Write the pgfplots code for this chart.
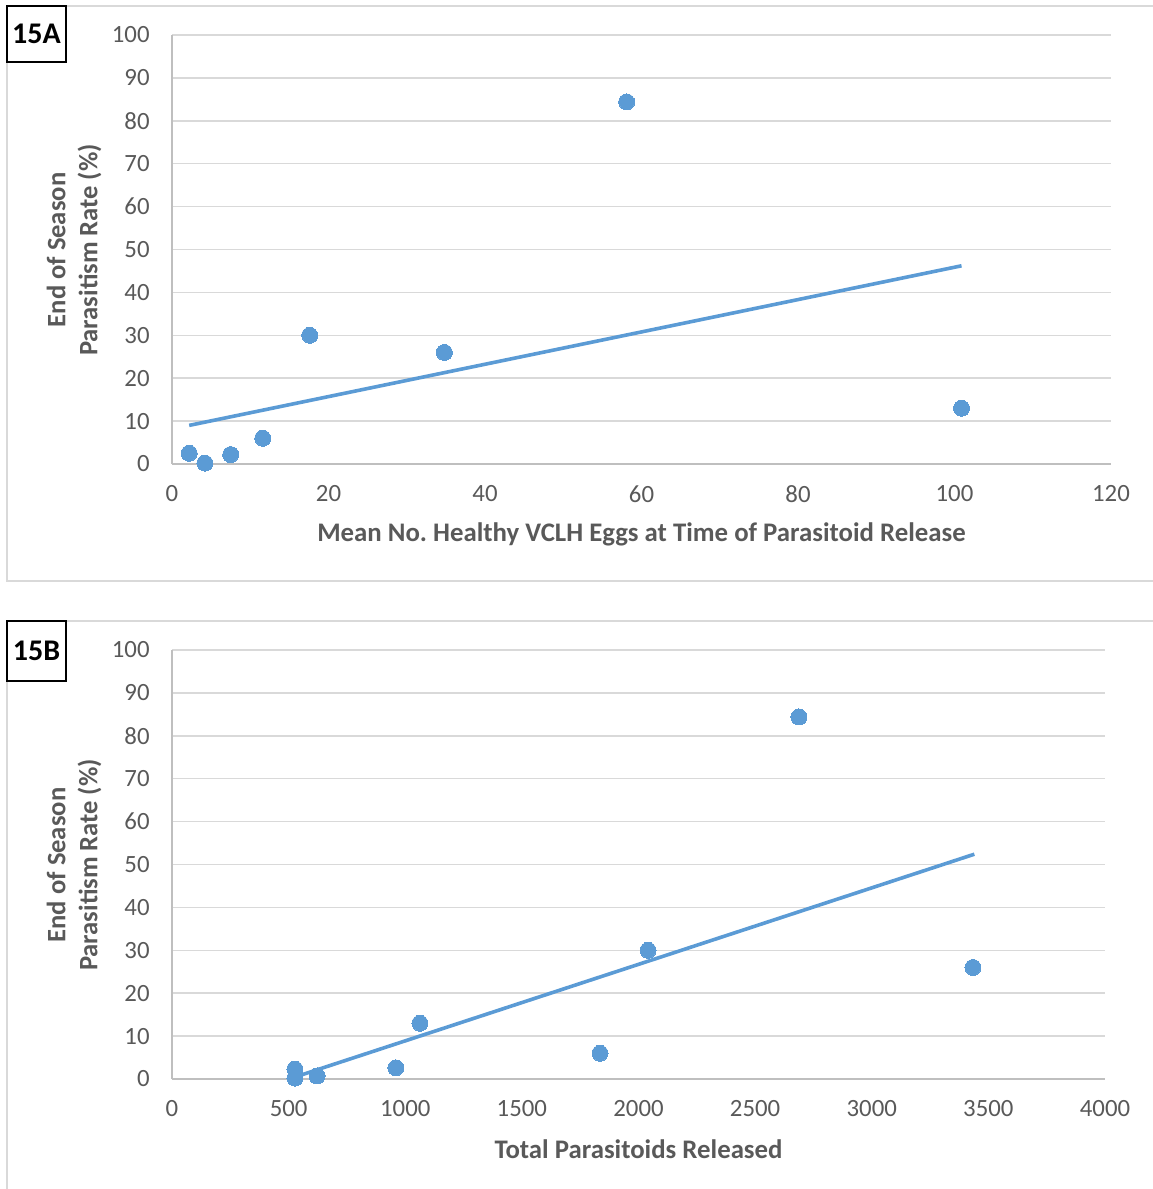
\documentclass[border=0pt]{standalone}
\usepackage{pgfplots}
\pgfplotsset{compat=1.18}
\usepackage{fontspec}
\setmainfont{Carlito}
\definecolor{mk}{HTML}{5B9BD5}
\definecolor{txt}{HTML}{595959}
\definecolor{grd}{HTML}{D9D9D9}
\definecolor{axl}{HTML}{BFBFBF}
\definecolor{frm}{HTML}{D9D9D9}
\pgfplotsset{
  panel/.style={
    scale only axis,
    height=214.5pt,
    ymin=0, ymax=100,
    ytick={0,10,...,100},
    axis x line*=bottom,
    axis y line*=left,
    x axis line style={draw=axl, line width=0.75pt, -},
    y axis line style={draw=axl, line width=0.75pt, -},
    ymajorgrids,
    major grid style={draw=grd, line width=0.75pt},
    major tick length=0pt,
    tick style={draw=none},
    /pgf/number format/assume math mode=true,
    /pgf/number format/1000 sep={},
    ticklabel style={font=\fontsize{12.4pt}{14pt}\selectfont, text=txt},
    xticklabel style={anchor=center, yshift=-15pt, inner sep=0pt},
    yticklabel style={anchor=east, xshift=-11pt, inner sep=0pt},
    xlabel style={at={(rel axis cs:0.5,0)}, anchor=center, yshift=-35pt,
      font=\fontsize{13.4pt}{15pt}\selectfont\bfseries, text=txt},
    clip=false,
  },
  pts/.style={only marks, mark=*, mark size=4pt, mark options={fill=mk, draw=mk, line width=0pt}},
  trend/.style={no marks, draw=mk, line width=1.8pt},
}
\begin{document}
\begin{tikzpicture}
\useasboundingbox (0,0) rectangle (576pt,594.5pt);
% frames
\draw[frm, line width=0.75pt] (580pt,591.5pt) -- (3.5pt,591.5pt) -- (3.5pt,304pt) -- (580pt,304pt);
\draw[frm, line width=0.75pt] (580pt,284pt) -- (3.5pt,284pt) -- (3.5pt,-5pt);
% panel A
\begin{axis}[panel, at={(86pt,362.5pt)}, anchor=south west, width=469.5pt,
  xmin=0, xmax=120, xtick={0,20,...,120},
  xlabel={Mean No.\ Healthy VCLH Eggs at Time of Parasitoid Release}]
\addplot[trend] coordinates {(2.2,9.0) (100.9,46.2)};
\addplot[pts] coordinates {
(2.2,2.5) (4.2,0.2) (7.5,2.2) (11.6,6.0) (17.6,30.0) (34.8,26.0) (58.1,84.4) (100.9,13.0)};
\end{axis}
% panel B
\begin{axis}[panel, at={(86pt,55pt)}, anchor=south west, width=466.5pt,
  xmin=0, xmax=4000, xtick={0,500,...,4000},
  xlabel={Total Parasitoids Released}]
\addplot[trend] coordinates {(535,0.6) (3440,52.4)};
\addplot[pts] coordinates {
(527,2.3) (527,0.2) (622,0.7) (960,2.6) (1063,13.0) (1835,6.0) (2041,30.0) (2688,84.4) (3434,26.0)};
\end{axis}
% y labels
\node[rotate=90, align=center, text=txt, font=\fontsize{13.3pt}{16pt}\selectfont\bfseries] at (37pt,469.5pt) {End of Season\\Parasitism Rate (\%)};
\node[rotate=90, align=center, text=txt, font=\fontsize{13.3pt}{16pt}\selectfont\bfseries] at (37pt,162pt) {End of Season\\Parasitism Rate (\%)};
% panel tags
\draw[black, line width=0.75pt, fill=white] (3.5pt,591.5pt) rectangle (33pt,563.5pt);
\node[font=\fontsize{15pt}{17pt}\selectfont\bfseries] at (18.25pt,577.5pt) {15A};
\draw[black, line width=0.75pt, fill=white] (3.5pt,284pt) rectangle (33pt,254pt);
\node[font=\fontsize{15pt}{17pt}\selectfont\bfseries] at (18.25pt,269pt) {15B};
\end{tikzpicture}
\end{document}
